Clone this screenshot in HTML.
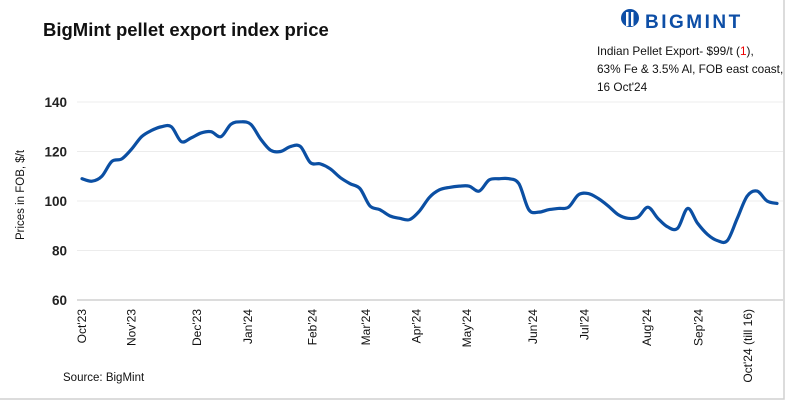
<!DOCTYPE html>
<html><head><meta charset="utf-8"><style>
body{margin:0;background:#fff;font-family:"Liberation Sans",sans-serif}
#wrap{position:relative;width:800px;height:401px;overflow:hidden}
</style></head><body>
<div id="wrap">
<svg id="chart" width="800" height="401">
<rect x="-2" y="-2" width="786" height="401" fill="none" stroke="#d0d0d0" stroke-width="1.5"/>
<text x="43" y="36" font-size="18.5" font-weight="bold" fill="#111">BigMint pellet export index price</text>
<g>
<circle cx="630" cy="18" r="9" fill="#0d4ea6"/>
<rect x="626" y="12" width="2.5" height="14" fill="#fff"/><rect x="631" y="12" width="2.5" height="14" fill="#fff"/>
<text x="645" y="28" font-size="19" font-weight="bold" fill="#0d4ea6" letter-spacing="2.5">BIGMINT</text>
</g>
<g font-size="11.8" fill="#111">
<text x="597" y="55">Indian Pellet Export- $99/t (<tspan fill="#e00">1</tspan>),</text>
<text x="597" y="73">63% Fe &amp; 3.5% Al, FOB east coast,</text>
<text x="597" y="91">16 Oct'24</text>
</g>
<text transform="translate(24,195) rotate(-90)" text-anchor="middle" font-size="11.5" fill="#111">Prices in FOB, $/t</text>
<text x="63" y="381" font-size="11.5" fill="#111">Source: BigMint</text>
<g id="grid"></g><g id="xl"></g><path id="line" fill="none" stroke="#0b4fa3" stroke-width="3.2" stroke-linejoin="round" stroke-linecap="round"/>
</svg></div>
<script>
const values=[109,108,110,116,117,121,126,128.5,130,130,124,125.5,127.5,128,126,131,132,131,125,120.5,120,122,122,115.5,115,113,109.5,107,105,98,96.5,94,93,92.5,96,101.5,104.5,105.5,106,106,104,108.5,109,109,107,96.5,95.5,96.5,97,97.5,102.5,103,101,98,94.5,93,93.5,97.5,93,89.5,89,97,91,86.5,84,84,93,102,104,100,99];
const monthLabels=["Oct'23","Nov'23","Dec'23","Jan'24","Feb'24","Mar'24","Apr'24","May'24","Jun'24","Jul'24","Aug'24","Sep'24","Oct'24 (till 16)"];
const monthPos=[0,5,11.6,16.7,23.2,28.6,33.7,38.8,45.4,50.6,56.9,62.1,67.1];
const yTicks=[60,80,100,120,140];
const NS="http://www.w3.org/2000/svg";
const X=i=>82+i*(695/(values.length-1));
const Y=v=>300-(v-60)*(198/80);
const grid=document.getElementById('grid'),xl=document.getElementById('xl');
yTicks.forEach(t=>{
 const l=document.createElementNS(NS,'line');
 l.setAttribute('x1',77);l.setAttribute('x2',783);l.setAttribute('y1',Y(t));l.setAttribute('y2',Y(t));
 l.setAttribute('stroke',t===60?'#c8c8c8':'#ececec');l.setAttribute('stroke-width',t===60?1.3:1);
 
 
 grid.appendChild(l);
 const tx=document.createElementNS(NS,'text');
 tx.setAttribute('x',67);tx.setAttribute('y',Y(t)+5);tx.setAttribute('text-anchor','end');
 tx.setAttribute('font-size','13.5');tx.setAttribute('font-weight','bold');tx.setAttribute('fill','#222');
 tx.textContent=t;
 
 
 grid.appendChild(tx);
});
monthLabels.forEach((m,i)=>{
 const tx=document.createElementNS(NS,'text');
 const x=X(monthPos[i]);
 tx.setAttribute('transform','translate('+(x+4)+',309) rotate(-90)');
 tx.setAttribute('text-anchor','end');tx.setAttribute('font-size','12');tx.setAttribute('fill','#111');
 tx.textContent=m;
 
 
 xl.appendChild(tx);
});
const p=values.map((v,i)=>[X(i),Y(v)]);
let d='M'+p[0][0]+','+p[0][1];
for(let i=0;i<p.length-1;i++){
 const p0=p[i-1]||p[i],p1=p[i],p2=p[i+1],p3=p[i+2]||p2;
 const c1=[p1[0]+(p2[0]-p0[0])/6,p1[1]+(p2[1]-p0[1])/6],c2=[p2[0]-(p3[0]-p1[0])/6,p2[1]-(p3[1]-p1[1])/6];
 d+=' C'+c1+' '+c2+' '+p2;
}
document.getElementById('line').setAttribute('d',d);
</script>
</body></html>
